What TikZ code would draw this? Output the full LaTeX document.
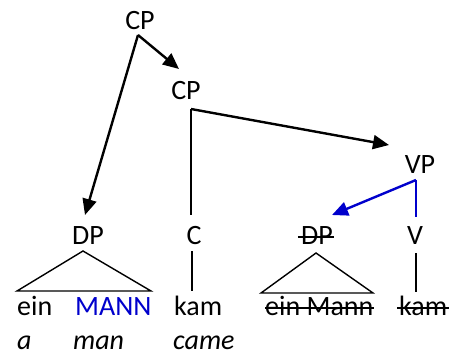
\documentclass[tikz,border=0pt]{standalone}
\usepackage{fontspec}
\setmainfont{Carlito}
\usetikzlibrary{arrows.meta}
\definecolor{treeblue}{RGB}{0,0,204}
\begin{document}
\begin{tikzpicture}[x=1pt,y=-1pt,
  lbl/.style={inner sep=0pt, anchor=base, font=\fontsize{28}{32}\selectfont},
  word/.style={lbl, anchor=base west},
  gloss/.style={word, font=\fontsize{28}{32}\selectfont\itshape},
  branch/.style={line width=1.4pt},
  move/.style={line width=2.4pt, -{Triangle[length=16pt,width=14pt]}},
  strike/.style={line width=1.5pt}]
\useasboundingbox (0,0) rectangle (449,353);
% labels
\node[lbl] (cp1) at (140,30) {CP};
\node[lbl] (cp2) at (186,99) {CP};
\node[lbl] (vp) at (420,173) {VP};
\node[lbl] (dp1) at (88,244) {DP};
\node[lbl] (c) at (194,244) {C};
\node[lbl] (dp2) at (317,244) {DP};
\node[lbl] (v) at (415,244) {V};
% words
\node[word] (ein) at (17,315) {ein};
\node[word, text=treeblue] (mann) at (75,315) {MANN};
\node[word] (kam1) at (174,315) {kam};
\node[word] (einmann) at (265,315) {ein Mann};
\node[word] (kam2) at (399,315) {kam};
% glosses
\node[gloss] (a) at (17,349) {a};
\node[gloss] (man) at (73,349) {man};
\node[gloss] (came) at (173,349) {came};
% connector points
\coordinate (cp1f) at (138,35);
\coordinate (cp2h) at (179,69);
\coordinate (dp1h) at (85,215);
\coordinate (cp2f) at (191,109);
\coordinate (vph) at (389,145);
\coordinate (ch) at (191,215);
\coordinate (vpf) at (416,180);
\coordinate (dp2h) at (332,215);
\coordinate (vh) at (416,217);
\coordinate (dp1apex) at (83,251);
\coordinate (dp1l) at (17,291);
\coordinate (dp1r) at (151,291);
\coordinate (cf) at (192,251);
\coordinate (kam1h) at (192,291);
\coordinate (dp2apex) at (316,253);
\coordinate (dp2l) at (261,293);
\coordinate (dp2r) at (373,293);
\coordinate (vf) at (416,253);
\coordinate (kam2h) at (416,292);
% movement arrows
\draw[move] (cp1f) -- (cp2h);
\draw[move] (cp1f) -- (dp1h);
\draw[move] (cp2f) -- (vph);
\draw[branch] (cp2f) -- (ch);
\draw[move, treeblue] (vpf) -- (dp2h);
\draw[branch, treeblue, line width=1.1pt] (vpf) -- (vh);
% tree branches
\draw[branch] (dp1l) -- (dp1apex) -- (dp1r) -- cycle;
\draw[branch] (cf) -- (kam1h);
\draw[branch] (dp2l) -- (dp2apex) -- (dp2r) -- cycle;
\draw[branch] (vf) -- (kam2h);
% strikeouts
\draw[strike] ([shift={(-3pt,7pt)}]dp2.base west) -- ([shift={(1pt,7pt)}]dp2.base east);
\draw[strike] ([shift={(0pt,7pt)}]einmann.base west) -- ([shift={(0pt,7pt)}]einmann.base east);
\draw[strike] ([shift={(-2pt,7pt)}]kam2.base west) -- ([shift={(2pt,7pt)}]kam2.base east);
\end{tikzpicture}
\end{document}
